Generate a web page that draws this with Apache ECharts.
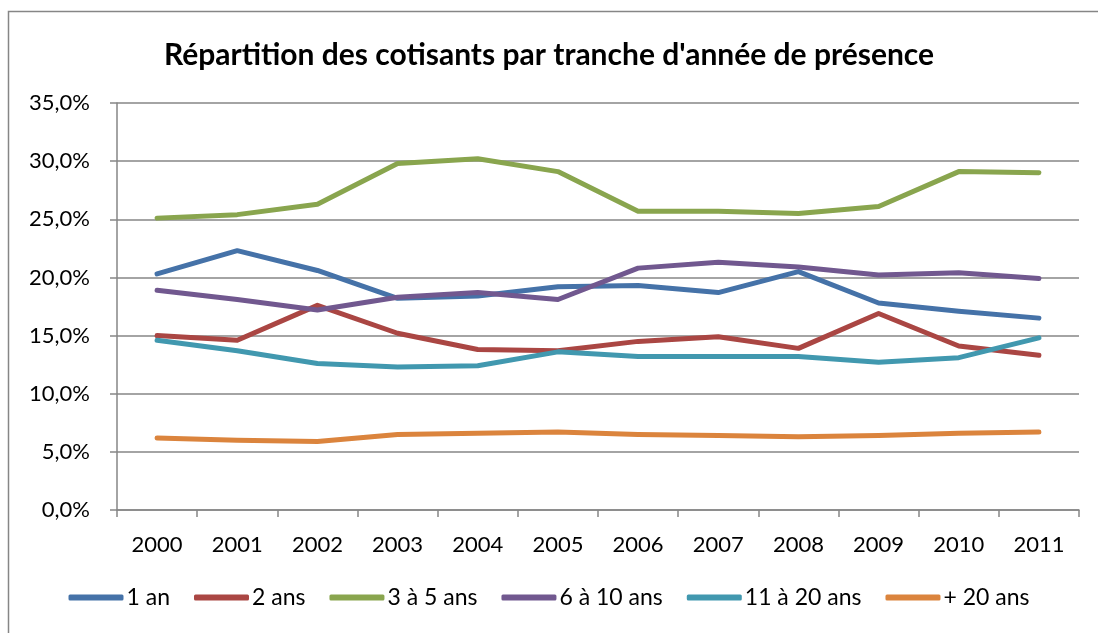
<!DOCTYPE html>
<html>
<head>
<meta charset="utf-8">
<script src="https://cdn.jsdelivr.net/npm/echarts@6/dist/echarts.min.js"></script>
<style>
  html, body { margin: 0; padding: 0; background: #fff; }
  #chart { width: 1098px; height: 633px; }
</style>
</head>
<body>
<div id="chart"></div>
<script>
const years = ['2000', '2001', '2002', '2003', '2004', '2005', '2006', '2007', '2008', '2009', '2010', '2011']

// valeurs en %
const an1 = [20.3, 22.3, 20.6, 18.2, 18.4, 19.2, 19.3, 18.7, 20.5, 17.8, 17.1, 16.5]
const ans2 = [15.0, 14.6, 17.6, 15.2, 13.8, 13.7, 14.5, 14.9, 13.9, 16.9, 14.1, 13.3]
const ans3a5 = [25.1, 25.4, 26.3, 29.8, 30.2, 29.1, 25.7, 25.7, 25.5, 26.1, 29.1, 29.0]
const ans6a10 = [18.9, 18.1, 17.2, 18.3, 18.7, 18.1, 20.8, 21.3, 20.9, 20.2, 20.4, 19.9]
const ans11a20 = [14.6, 13.7, 12.6, 12.3, 12.4, 13.6, 13.2, 13.2, 13.2, 12.7, 13.1, 14.8]
const plus20 = [6.2, 6.0, 5.9, 6.5, 6.6, 6.7, 6.5, 6.4, 6.3, 6.4, 6.6, 6.7]

const seriesDefs = [
  { name: '1 an', data: an1, color: '#4572a8' },
  { name: '2 ans', data: ans2, color: '#aa4643' },
  { name: '3 à 5 ans', data: ans3a5, color: '#89a54e' },
  { name: '6 à 10 ans', data: ans6a10, color: '#71588f' },
  { name: '11 à 20 ans', data: ans11a20, color: '#4198af' },
  { name: '+ 20 ans', data: plus20, color: '#db843d' }
]

const font = 'Lato, "Open Sans", sans-serif'
const chart = echarts.init(document.getElementById('chart'), null, { renderer: 'canvas' })

chart.setOption({
  animation: false,
  textStyle: { fontFamily: font },
  title: {
    text: "Répartition des cotisants par tranche d'année de présence",
    left: 'center',
    top: 35,
    textStyle: { fontFamily: font, fontSize: 30, fontWeight: 'bold', color: '#000' }
  },
  graphic: [{
    type: 'rect',
    shape: { x: 8.5, y: 11.5, width: 1200, height: 700 },
    style: { fill: 'none', stroke: '#868686', lineWidth: 1.5 },
    silent: true
  }],
  legend: {
    bottom: 19,
    left: 'center',
    itemWidth: 55,
    itemHeight: 6,
    itemGap: 24,
    icon: 'roundRect',
    textStyle: { fontFamily: font, fontSize: 23, color: '#000', padding: [0, 0, 0, -2] },
    data: seriesDefs.map(s => s.name)
  },
  grid: { left: 117, right: 19, top: 103, bottom: 123 },
  xAxis: {
    type: 'category',
    data: years,
    boundaryGap: true,
    axisLine: { lineStyle: { color: '#868686', width: 1.5 } },
    axisTick: { show: true, alignWithLabel: false, length: 7, lineStyle: { color: '#868686', width: 1.5 } },
    axisLabel: { color: '#000', fontSize: 22, margin: 24, fontFamily: font }
  },
  yAxis: {
    type: 'value',
    min: 0,
    max: 35,
    interval: 5,
    axisLine: { show: true, lineStyle: { color: '#868686', width: 1.5 } },
    axisTick: { show: true, length: 7, lineStyle: { color: '#868686', width: 1.5 } },
    axisLabel: {
      color: '#000', fontSize: 22, margin: 27, fontFamily: font,
      formatter: v => v.toFixed(1).replace('.', ',') + '%'
    },
    splitLine: { lineStyle: { color: '#868686', width: 1.5 } }
  },
  series: seriesDefs.map(s => ({
    name: s.name,
    type: 'line',
    data: s.data,
    symbol: 'none',
    color: s.color,
    lineStyle: { width: 5, color: s.color, cap: 'round', join: 'round' }
  }))
})
</script>
</body>
</html>
